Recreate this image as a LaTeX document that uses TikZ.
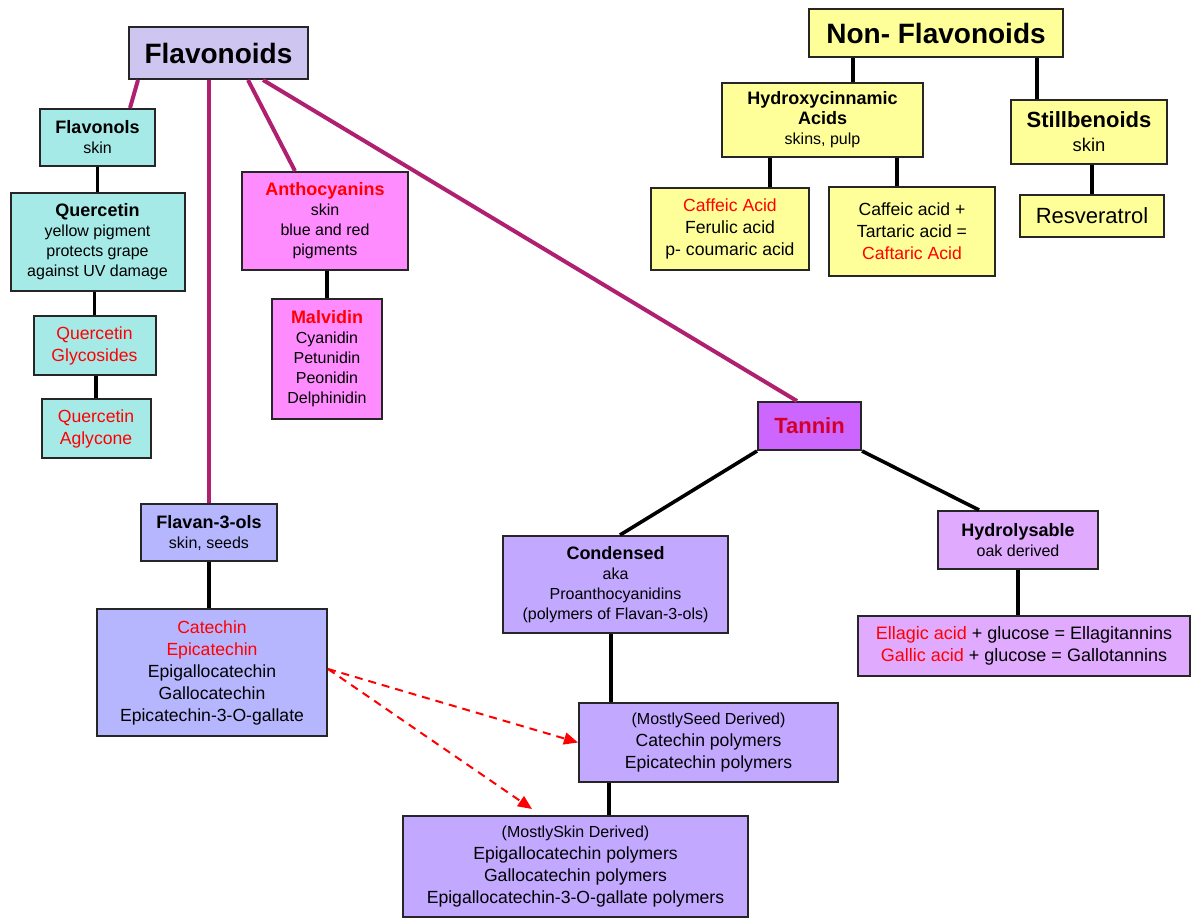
\documentclass[tikz,border=0pt]{standalone}
\usepackage{fontspec}
\setmainfont{Liberation Sans}
\usetikzlibrary{positioning,arrows.meta}
\definecolor{flavcol}{RGB}{206,198,240}
\definecolor{flavolcol}{RGB}{166,234,232}
\definecolor{anthocol}{RGB}{255,140,255}
\definecolor{nonflavcol}{RGB}{255,255,153}
\definecolor{tannincol}{RGB}{204,102,255}
\definecolor{hydrolcol}{RGB}{224,170,255}
\definecolor{flavancol}{RGB}{182,182,255}
\definecolor{condcol}{RGB}{194,168,255}
\definecolor{linkcol}{RGB}{176,32,112}
\definecolor{tannintext}{RGB}{210,0,40}
\newcommand\fsbody{\fontsize{8.8}{11}\selectfont}
\newcommand\fsnote{\fontsize{8}{10}\selectfont}
\newcommand\fstitle{\fontsize{14}{16}\selectfont\bfseries}
\newcommand\boxhead[1]{{\fontsize{9}{10}\selectfont\bfseries #1}}

\begin{document}
\begin{tikzpicture}[
  x=0.5pt, y=-0.5pt,
  box/.style={draw=black!85, line width=1pt, align=center, inner sep=1pt, font=\fsbody},
  note/.style={box, font=\fsnote},
  link/.style={linkcol, line width=2pt},
  con/.style={black, line width=1.8pt},
  darr/.style={-{Triangle[length=7pt,width=6pt]}, red, line width=1pt, dash pattern=on 4pt off 3pt}
]
\useasboundingbox (0,0) rectangle (1192,919);

% ---------------- flavonoids ----------------
\node[box, fill=flavcol, font=\fstitle, minimum width=89.5pt, minimum height=26pt] (flav) at (218.5,53) {Flavonoids};

\node[note, fill=flavolcol, minimum width=57.5pt, minimum height=28.5pt] (flavonols) at (97.5,137.5)
  {\boxhead{Flavonols}\\skin};
\node[note, fill=flavolcol, minimum width=87pt, minimum height=49pt, below=12.5pt of flavonols] (querc)
  {\boxhead{Quercetin}\\yellow pigment\\protects grape\\against UV damage};
\node[box, fill=flavolcol, text=red, minimum width=61pt, minimum height=29.5pt, below=11.5pt of querc, xshift=-1.5pt] (glyco)
  {Quercetin\\Glycosides};
\node[box, fill=flavolcol, text=red, minimum width=54.5pt, minimum height=29.5pt, below=11pt of glyco, xshift=0.75pt] (aglyc)
  {Quercetin\\Aglycone};

\node[note, fill=anthocol, minimum width=83pt, minimum height=49pt] (antho) at (325,221)
  {\boxhead{\textcolor{red}{Anthocyanins}}\\skin\\blue and red\\pigments};
\node[note, fill=anthocol, minimum width=55pt, minimum height=60pt, below=13.5pt of antho, xshift=1pt] (malv)
  {\boxhead{\textcolor{red}{Malvidin}}\\Cyanidin\\Petunidin\\Peonidin\\Delphinidin};

\node[note, fill=flavancol, minimum width=68pt, minimum height=28.5pt] (flavan) at (209,532.5)
  {\boxhead{Flavan-3-ols}\\skin, seeds};
\node[box, fill=flavancol, minimum width=115pt, minimum height=63.5pt, below=23pt of flavan, xshift=1.5pt] (catech)
  {\textcolor{red}{Catechin}\\\textcolor{red}{Epicatechin}\\Epigallocatechin\\Gallocatechin\\Epicatechin-3-O-gallate};

% ---------------- non-flavonoids ----------------
\node[box, fill=nonflavcol, font=\fstitle, minimum width=127pt, minimum height=24pt] (nonflav) at (936,33) {Non- Flavonoids};

\node[note, fill=nonflavcol, minimum width=100.5pt, minimum height=37pt] (hydroxy) at (822.5,120)
  {\boxhead{Hydroxycinnamic}\\\boxhead{Acids}\\skins, pulp};
\node[box, fill=nonflavcol, minimum width=78pt, minimum height=32pt] (still) at (1089,132)
  {{\fontsize{11}{13}\selectfont\bfseries Stillbenoids}\\[1pt]{\fontsize{9.2}{11}\selectfont skin}};
\node[box, fill=nonflavcol, minimum width=79pt, minimum height=41pt] (caffeic) at (730,229)
  {\textcolor{red}{Caffeic Acid}\\Ferulic acid\\p- coumaric acid};
\node[box, fill=nonflavcol, minimum width=83pt, minimum height=44.5pt, right=9pt of caffeic, yshift=-1.25pt] (caftaric)
  {Caffeic acid +\\Tartaric acid =\\\textcolor{red}{Caftaric Acid}};
\node[box, fill=nonflavcol, font=\fontsize{11}{13}\selectfont, minimum width=72pt, minimum height=21pt, below=14.5pt of still, xshift=1.5pt] (resv)
  {Resveratrol};

% ---------------- tannin ----------------
\node[box, fill=tannincol, font=\fontsize{11}{13}\selectfont\bfseries, text=tannintext, minimum width=51.5pt, minimum height=24pt] (tannin) at (809.5,426) {Tannin};

\node[note, fill=hydrolcol, minimum width=80pt, minimum height=29pt] (hydrol) at (1018,540)
  {\boxhead{Hydrolysable}\\oak derived};
\node[box, fill=hydrolcol, font=\fontsize{9}{11}\selectfont, minimum width=166pt, minimum height=30pt, below=22.5pt of hydrol, xshift=3pt] (ellag)
  {\textcolor{red}{Ellagic acid} + glucose = Ellagitannins\\\textcolor{red}{Gallic acid} + glucose = Gallotannins};

\node[note, fill=condcol, minimum width=112.5pt, minimum height=48.5pt] (cond) at (615.5,584.5)
  {\boxhead{Condensed}\\aka\\Proanthocyanidins\\(polymers of Flavan-3-ols)};
\node[box, fill=condcol, minimum width=129.5pt, minimum height=39.5pt, below=34pt of cond, xshift=46.5pt] (seed)
  {{\fsnote(MostlySeed Derived)}\\Catechin polymers\\Epicatechin polymers};
\node[box, fill=condcol, minimum width=172.5pt, minimum height=50.5pt, below=16pt of seed, xshift=-66.5pt] (skin)
  {{\fsnote(MostlySkin Derived)}\\Epigallocatechin polymers\\Gallocatechin polymers\\Epigallocatechin-3-O-gallate polymers};

% ---------------- connectors ----------------
\draw[link] ([xshift=5pt]flav.south west) -- ([xshift=45.5pt]flavonols.north west);
\draw[link] (flav.south -| flavan.north) -- (flavan.north);
\draw[link] ([xshift=-30.5pt]flav.south east) -- ([xshift=27pt]antho.north west);
\draw[link] ([xshift=-23pt]flav.south east) -- ([xshift=20pt]tannin.north west);

\draw[con] (flavonols.south) -- (querc.north);
\draw[con] (querc.south -| glyco.north) -- (glyco.north);
\draw[con] (glyco.south -| aglyc.north) -- (aglyc.north);
\draw[con] (antho.south -| malv.north) -- (malv.north);
\draw[con] (flavan.south) -- (flavan.south |- catech.north);

\draw[con] ([xshift=-41.5pt]nonflav.south) -- ([xshift=15.25pt]hydroxy.north);
\draw[con] ([xshift=50.5pt]nonflav.south) -- ([xshift=-26pt]still.north);
\draw[con] ([xshift=-26.25pt]hydroxy.south) -- ([xshift=20pt]caffeic.north);
\draw[con] ([xshift=37.25pt]hydroxy.south) -- ([xshift=-7.5pt]caftaric.north);
\draw[con] (still.south -| resv.north) -- (resv.north);

\draw[con] (tannin.south west) -- ([xshift=2.25pt]cond.north);
\draw[con] (tannin.south east) -- ([xshift=-19.5pt]hydrol.north);
\draw[con] (hydrol.south) -- (hydrol.south |- ellag.north);
\draw[con] ([xshift=-2.25pt]cond.south) -- ([xshift=-48.75pt]seed.north);
\draw[con] ([xshift=-49.75pt]seed.south) -- ([xshift=16.75pt]skin.north);

% catechins end up in both polymer groups
\draw[darr] ([yshift=1.75pt]catech.east) -- (seed.west);
\draw[darr] ([yshift=1.75pt]catech.east) -- ([xshift=65pt,yshift=3pt]skin.north west);

\end{tikzpicture}
\end{document}
